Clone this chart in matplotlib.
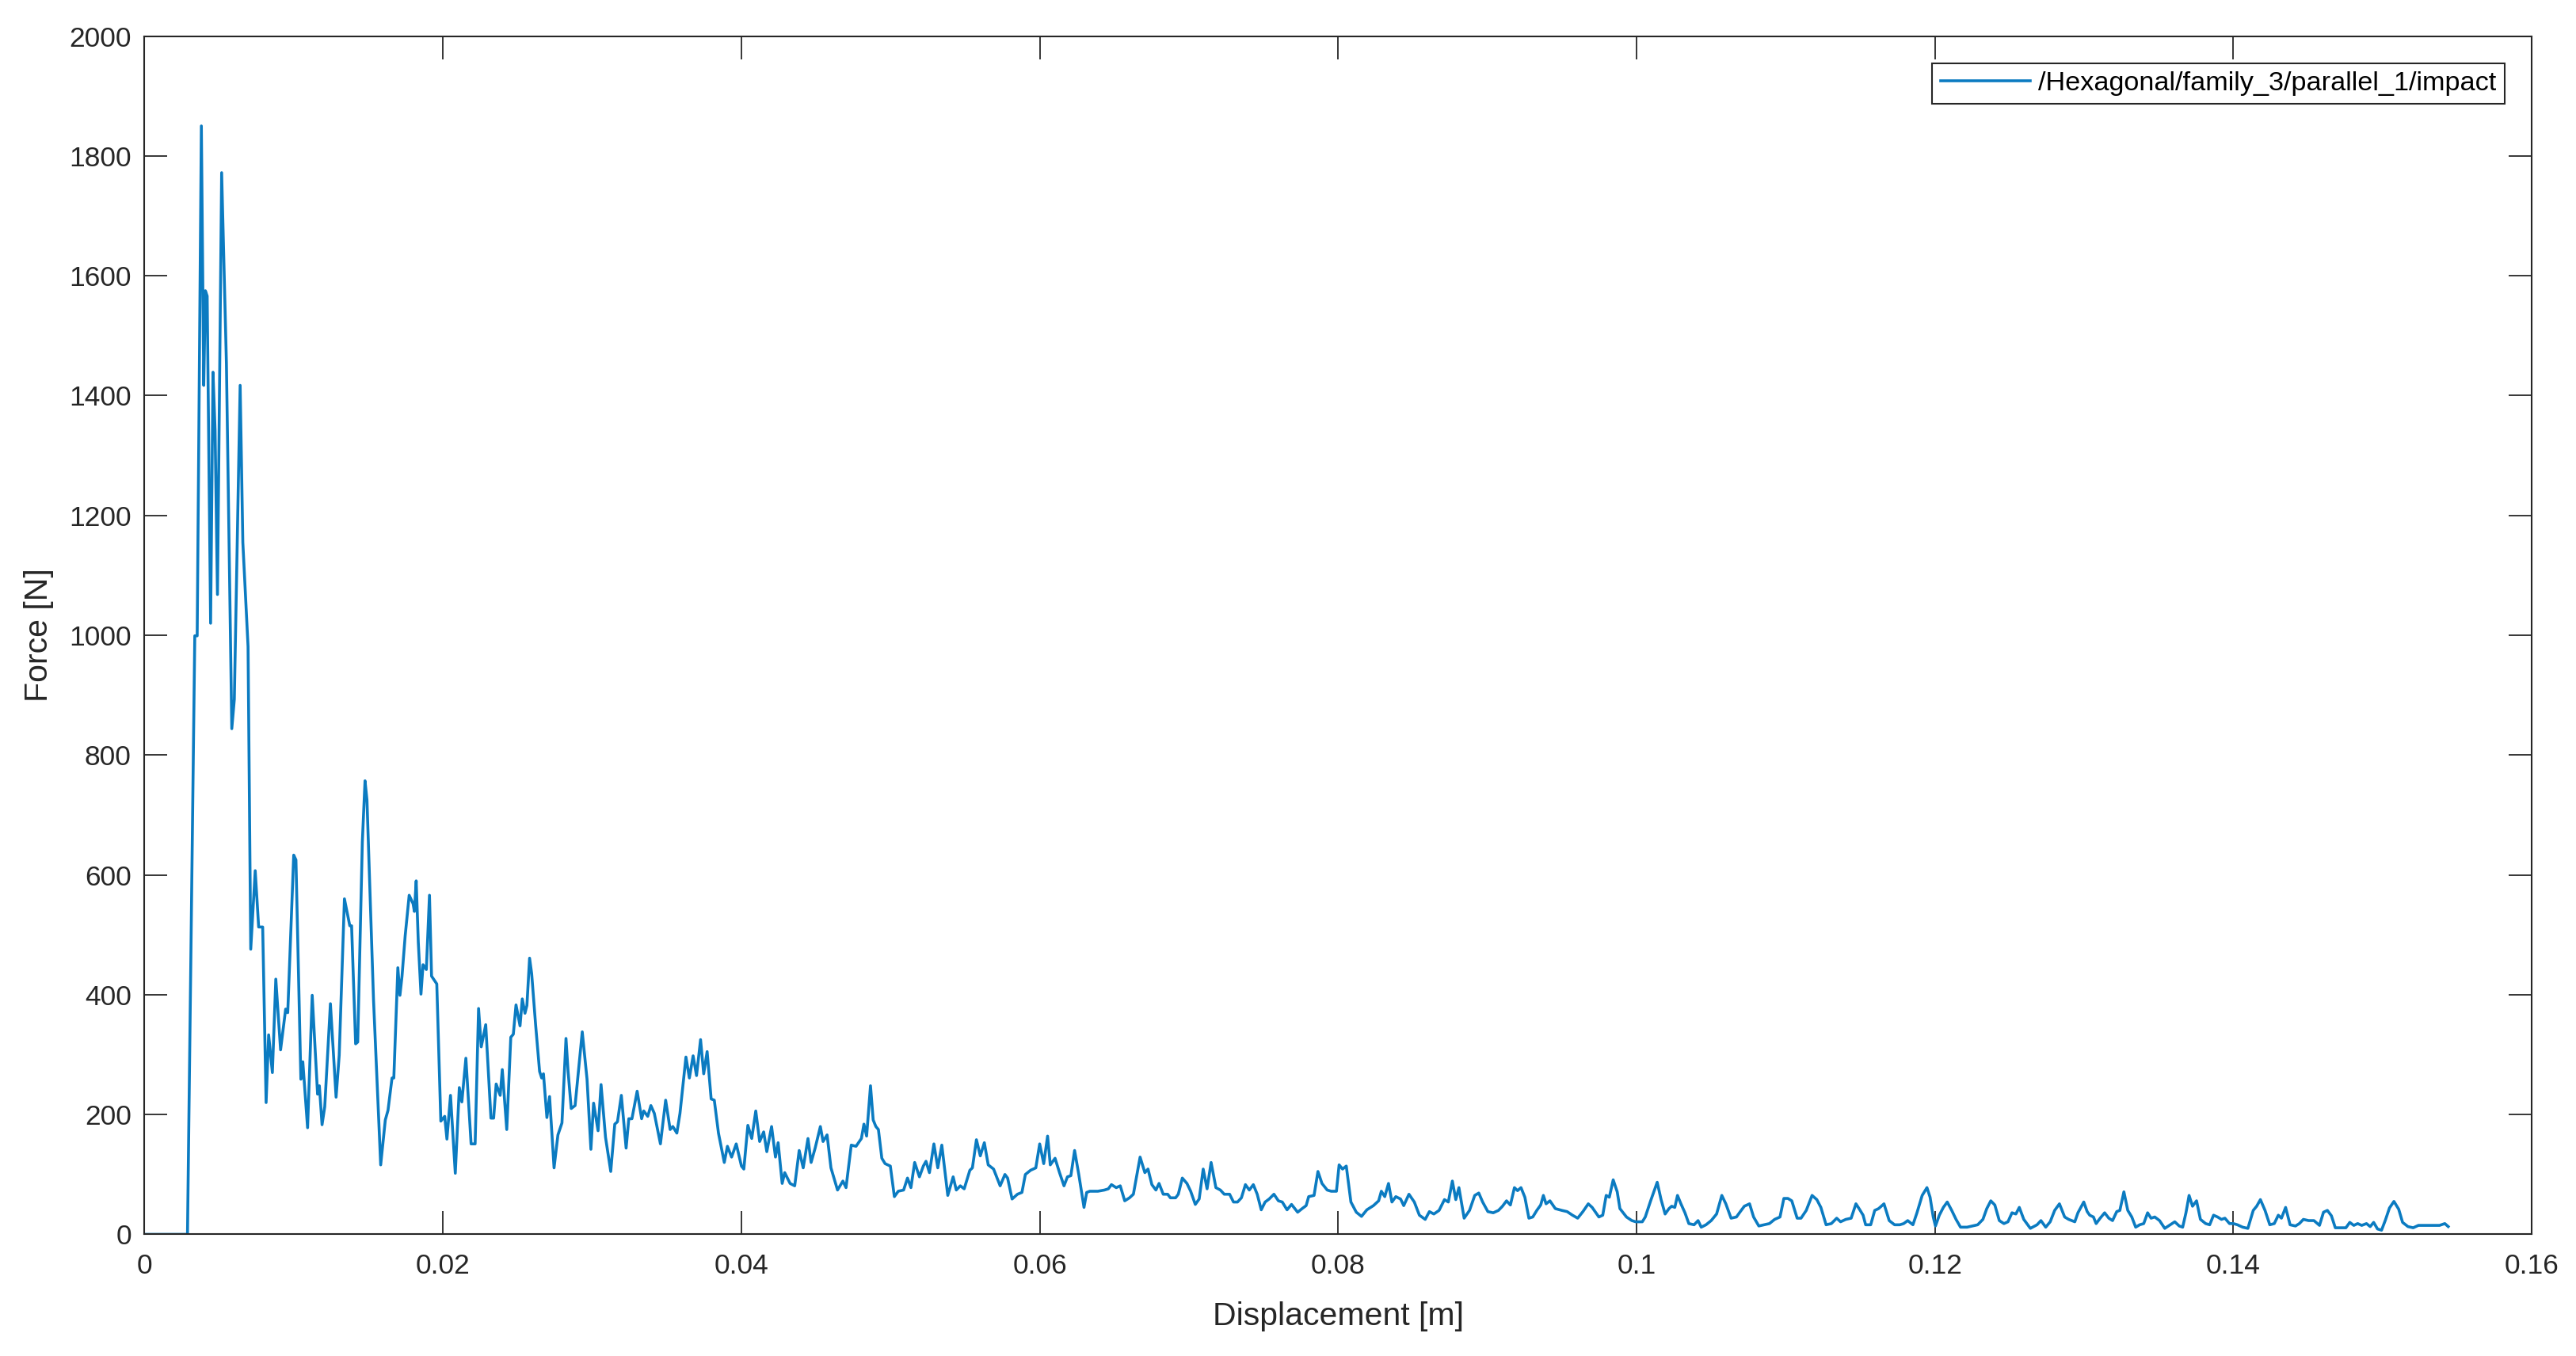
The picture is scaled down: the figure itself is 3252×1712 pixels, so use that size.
import numpy as np
import matplotlib
matplotlib.use('Agg')
import matplotlib.pyplot as plt

plt.rcParams['font.family'] = ['Liberation Sans', 'DejaVu Sans']

# ---- data (displacement in m, force in N) ----
disp_1 = [0, 0.00288, 0.00337, 0.00353, 0.00381, 0.00397, 0.00408, 0.00420, 0.00443, 0.00459,
          0.00473, 0.00489, 0.00517, 0.00549, 0.00585, 0.00602, 0.00641, 0.00659, 0.00694, 0.00712,
          0.00742, 0.00765, 0.00792, 0.00815, 0.00832, 0.00857, 0.00880, 0.00912, 0.00946, 0.00960]
force_1 = [0, 0, 999, 999, 1850, 1417, 1575, 1566, 1020, 1439,
           1342, 1068, 1772, 1454, 844, 893, 1417, 1155, 981, 476,
           607, 513, 513, 220, 333, 270, 426, 308, 376, 370]

disp_2 = [0.01000, 0.01015, 0.01048, 0.01061, 0.01093, 0.01124, 0.01160, 0.01172, 0.01190, 0.01208,
          0.01246, 0.01284, 0.01305, 0.01340, 0.01376, 0.01388, 0.01415, 0.01429, 0.01460, 0.01478,
          0.01491, 0.01535, 0.01583, 0.01614, 0.01632, 0.01659, 0.01671, 0.01698, 0.01712, 0.01726,
          0.01747, 0.01774, 0.01800, 0.01809, 0.01821, 0.01835, 0.01853, 0.01867, 0.01889, 0.01910,
          0.01924, 0.01959, 0.01986, 0.02012, 0.02027, 0.02051, 0.02083, 0.02110, 0.02127, 0.02154,
          0.02189, 0.02216, 0.02239, 0.02257, 0.02287, 0.02322, 0.02340, 0.02357, 0.02384, 0.02398,
          0.02428, 0.02455, 0.02472, 0.02490, 0.02517]
force_2 = [633, 625, 259, 288, 178, 399, 234, 248, 183, 213,
           385, 229, 299, 560, 515, 515, 318, 321, 655, 757,
           725, 391, 116, 191, 207, 261, 261, 445, 399, 431,
           498, 566, 552, 539, 590, 488, 401, 450, 442, 566,
           431, 418, 189, 197, 159, 232, 102, 245, 221, 294,
           151, 151, 377, 313, 350, 194, 194, 251, 232, 275,
           175, 329, 334, 383, 348]

disp_3 = [0.02532, 0.02550, 0.02563, 0.02581, 0.02595, 0.02621, 0.02648, 0.02662, 0.02674, 0.02697,
          0.02715, 0.02745, 0.02771, 0.02798, 0.02825, 0.02839, 0.02860, 0.02886, 0.02934, 0.02966,
          0.02992, 0.03010, 0.03040, 0.03060, 0.03090, 0.03125, 0.03152, 0.03170, 0.03196, 0.03228,
          0.03246, 0.03267, 0.03302, 0.03332, 0.03346, 0.03373, 0.03394, 0.03417, 0.03458, 0.03493,
          0.03523, 0.03541, 0.03568, 0.03589, 0.03629, 0.03652, 0.03677, 0.03700, 0.03727, 0.03748,
          0.03771, 0.03798, 0.03819, 0.03847, 0.03886, 0.03907, 0.03935, 0.03966, 0.04001]
force_3 = [393, 369, 382, 461, 435, 351, 272, 261, 268, 195,
           230, 111, 166, 186, 327, 272, 210, 215, 338, 259,
           142, 219, 173, 250, 162, 105, 184, 188, 232, 144,
           193, 193, 239, 193, 206, 197, 215, 202, 151, 224,
           175, 180, 169, 202, 296, 261, 298, 265, 325, 268,
           305, 226, 224, 169, 120, 147, 129, 151, 114]

disp_4 = [0.04017, 0.04044, 0.04070, 0.04097, 0.04123, 0.04150, 0.04171, 0.04203, 0.04229, 0.04247,
          0.04274, 0.04291, 0.04327, 0.04358, 0.04388, 0.04415, 0.04447, 0.04468, 0.04495, 0.04530,
          0.04548, 0.04575, 0.04601, 0.04645, 0.04681, 0.04702, 0.04737, 0.04769, 0.04805, 0.04822,
          0.04840, 0.04866, 0.04884, 0.04902, 0.04919, 0.04942, 0.04964, 0.04999, 0.05026, 0.05052,
          0.05088, 0.05114, 0.05137, 0.05162, 0.05194, 0.05220, 0.05238, 0.05261, 0.05291, 0.05317,
          0.05344, 0.05384, 0.05420, 0.05441, 0.05468, 0.05494]
force_4 = [109, 182, 160, 206, 155, 171, 138, 180, 129, 153,
           85, 103, 85, 81, 140, 111, 160, 120, 144, 180,
           155, 166, 111, 74, 89, 78, 149, 147, 160, 184,
           164, 248, 191, 180, 175, 127, 118, 114, 63, 72,
           74, 94, 78, 120, 96, 114, 122, 103, 151, 111,
           149, 65, 96, 74, 81, 76]

disp_5 = [0.05532, 0.05549, 0.05576, 0.05602, 0.05629, 0.05655, 0.05691, 0.05735, 0.05767, 0.05785,
          0.05815, 0.05851, 0.05881, 0.05904, 0.05939, 0.05974, 0.06000, 0.06027, 0.06053, 0.06071,
          0.06103, 0.06133, 0.06163, 0.06186, 0.06209, 0.06234, 0.06262, 0.06297, 0.06315, 0.06336,
          0.06390, 0.06434, 0.06460, 0.06481, 0.06513, 0.06540, 0.06570, 0.06602, 0.06628, 0.06673,
          0.06705, 0.06726, 0.06752, 0.06779, 0.06800, 0.06828, 0.06858, 0.06876, 0.06911, 0.06929,
          0.06956, 0.06987, 0.07012]
force_5 = [107, 111, 158, 131, 153, 116, 109, 81, 100, 94,
           59, 67, 70, 100, 107, 111, 151, 118, 164, 116,
           127, 103, 81, 96, 98, 140, 100, 45, 70, 72,
           72, 74, 76, 83, 78, 81, 56, 61, 67, 129,
           103, 109, 83, 74, 85, 67, 67, 61, 61, 67,
           94, 85, 72]

disp_6 = [0.07043, 0.07069, 0.07096, 0.07122, 0.07149, 0.07181, 0.07211, 0.07237, 0.07273, 0.07299,
          0.07326, 0.07352, 0.07379, 0.07405, 0.07432, 0.07458, 0.07485, 0.07511, 0.07538, 0.07570,
          0.07600, 0.07626, 0.07658, 0.07688, 0.07729, 0.07759, 0.07786, 0.07803, 0.07839, 0.07865,
          0.07892, 0.07927, 0.07954, 0.07989, 0.08007, 0.08030, 0.08055, 0.08086, 0.08122, 0.08157,
          0.08193, 0.08237, 0.08272, 0.08290, 0.08313, 0.08338, 0.08361, 0.08387, 0.08419, 0.08440,
          0.08475, 0.08511]
force_6 = [50, 59, 109, 76, 120, 78, 74, 67, 67, 54,
           54, 61, 83, 74, 83, 67, 41, 54, 59, 67,
           56, 54, 41, 50, 37, 43, 48, 63, 65, 105,
           85, 74, 72, 72, 116, 109, 114, 54, 37, 30,
           41, 48, 56, 72, 63, 85, 54, 63, 59, 48,
           67, 54]

disp_7 = [0.08545, 0.08584, 0.08612, 0.08642, 0.08677, 0.08713, 0.08739, 0.08766, 0.08789, 0.08810,
          0.08845, 0.08881, 0.08916, 0.08943, 0.08969, 0.09004, 0.09040, 0.09075, 0.09102, 0.09129,
          0.09155, 0.09182, 0.09203, 0.09226, 0.09252, 0.09279, 0.09305, 0.09332, 0.09358, 0.09376,
          0.09394, 0.09420, 0.09456, 0.09500, 0.09535, 0.09571, 0.09606, 0.09641, 0.09677, 0.09703,
          0.09748, 0.09774, 0.09797, 0.09818, 0.09844, 0.09871, 0.09889, 0.09933, 0.09969, 0.09995,
          0.10039]
force_7 = [32, 25, 38, 34, 40, 58, 54, 89, 58, 78,
           27, 40, 65, 69, 54, 38, 36, 40, 47, 56,
           49, 78, 73, 78, 62, 27, 29, 40, 49, 65,
           51, 56, 43, 40, 38, 32, 27, 38, 51, 45,
           29, 32, 65, 62, 91, 71, 43, 29, 23, 21,
           21]

disp_8 = [0.10059, 0.10095, 0.10139, 0.10165, 0.10192, 0.10218, 0.10236, 0.10257, 0.10275, 0.10298,
          0.10325, 0.10351, 0.10386, 0.10413, 0.10434, 0.10466, 0.10501, 0.10537, 0.10572, 0.10599,
          0.10634, 0.10670, 0.10696, 0.10723, 0.10758, 0.10785, 0.10820, 0.10855, 0.10891, 0.10926,
          0.10962, 0.10988, 0.11015, 0.11041, 0.11077, 0.11103, 0.11138, 0.11177, 0.11209, 0.11236,
          0.11271, 0.11306, 0.11342, 0.11368, 0.11403, 0.11439, 0.11471, 0.11492, 0.11519, 0.11536]
force_8 = [29, 56, 87, 58, 34, 43, 47, 45, 65, 51,
           36, 18, 16, 23, 12, 16, 23, 34, 65, 51,
           27, 29, 38, 47, 51, 29, 14, 16, 18, 25,
           29, 60, 60, 56, 27, 27, 40, 65, 58, 45,
           16, 18, 27, 21, 25, 27, 51, 43, 32, 16]

disp_9 = [0.11570, 0.11597, 0.11623, 0.11659, 0.11694, 0.11730, 0.11765, 0.11791, 0.11818, 0.11853,
          0.11880, 0.11915, 0.11947, 0.11968, 0.11989, 0.12004, 0.12030, 0.12057, 0.12083, 0.12113,
          0.12142, 0.12172, 0.12216, 0.12251, 0.12287, 0.12322, 0.12348, 0.12375, 0.12402, 0.12432,
          0.12463, 0.12490, 0.12517, 0.12543, 0.12566, 0.12596, 0.12640, 0.12685, 0.12711, 0.12743,
          0.12773, 0.12803, 0.12835, 0.12870, 0.12897, 0.12938, 0.12959, 0.12998, 0.13021, 0.13038]
force_9 = [16, 40, 43, 51, 23, 16, 16, 18, 23, 16,
           36, 65, 78, 62, 29, 14, 32, 45, 54, 40,
           25, 12, 12, 14, 16, 25, 43, 56, 49, 23,
           18, 21, 36, 34, 45, 25, 10, 16, 23, 12,
           21, 40, 51, 29, 25, 21, 36, 54, 38, 32]

disp_10 = [0.13063, 0.13081, 0.13108, 0.13138, 0.13166, 0.13191, 0.13219, 0.13240, 0.13267, 0.13293,
           0.13320, 0.13346, 0.13373, 0.13400, 0.13426, 0.13449, 0.13474, 0.13506, 0.13541, 0.13577,
           0.13608, 0.13638, 0.13661, 0.13683, 0.13704, 0.13727, 0.13754, 0.13780, 0.13815, 0.13842,
           0.13868, 0.13895, 0.13921, 0.13944, 0.13975, 0.14001, 0.14028, 0.14063, 0.14098, 0.14134,
           0.14157, 0.14182, 0.14213, 0.14245, 0.14275, 0.14302, 0.14323, 0.14351, 0.14381, 0.14417,
           0.14443, 0.14470, 0.14505, 0.14541]
force_10 = [29, 18, 27, 36, 27, 23, 38, 40, 71, 40,
            29, 12, 16, 18, 36, 27, 29, 23, 10, 16,
            21, 14, 12, 36, 65, 47, 56, 25, 18, 16,
            32, 29, 25, 27, 18, 18, 16, 12, 10, 40,
            47, 58, 40, 16, 18, 32, 27, 45, 16, 14,
            18, 25, 23, 23]

disp_11 = [0.14578, 0.14605, 0.14631, 0.14658, 0.14684, 0.14720, 0.14755, 0.14781, 0.14808, 0.14834,
           0.14861, 0.14893, 0.14918, 0.14941, 0.14967, 0.14994, 0.15020, 0.15047, 0.15077, 0.15109,
           0.15135, 0.15171, 0.15206, 0.15241, 0.15277, 0.15312, 0.15347, 0.15383, 0.15418, 0.15441]
force_11 = [15, 37, 40, 31, 11, 11, 11, 20, 15, 18,
            15, 18, 13, 20, 9, 7, 24, 44, 55, 42,
            20, 13, 11, 15, 15, 15, 15, 15, 18, 13]

x_ticks = [0, 0.02, 0.04, 0.06, 0.08, 0.10, 0.12, 0.14, 0.16]
x_tick_labels = ['0', '0.02', '0.04', '0.06', '0.08', '0.1', '0.12', '0.14', '0.16']
y_ticks = [0, 200, 400, 600, 800, 1000, 1200, 1400, 1600, 1800, 2000]
series_label = '/Hexagonal/family_3/parallel_1/impact'

disp_parts = [disp_1, disp_2, disp_3, disp_4, disp_5, disp_6, disp_7, disp_8, disp_9, disp_10, disp_11]
force_parts = [force_1, force_2, force_3, force_4, force_5, force_6, force_7, force_8, force_9, force_10, force_11]
for d, f in zip(disp_parts, force_parts):
    assert len(d) == len(f), (len(d), len(f))
displacement = np.concatenate(disp_parts)
force = np.concatenate(force_parts)

# ---- figure ----
fig = plt.figure(figsize=(32.52, 17.12), dpi=100)
ax = fig.add_axes([0.0561, 0.0897, 0.92668, 0.8837])
line_color = '#0b7bc1'
ax.plot(displacement, force, color=line_color, lw=2.6, label=series_label,
        solid_joinstyle='round')

ax.set_xlim(0, 0.16)
ax.set_ylim(0, 2000)
ax.set_xticks(x_ticks)
ax.set_xticklabels(x_tick_labels)
ax.set_yticks(y_ticks)
ax.set_yticklabels([str(v) for v in y_ticks])

axis_color = '#262626'
ax.tick_params(direction='in', length=21, width=1.3, top=True, right=True,
               labelsize=25.5, colors=axis_color)
ax.tick_params(axis='x', pad=17)
ax.tick_params(axis='y', pad=12)
for s in ax.spines.values():
    s.set_linewidth(1.5)
    s.set_color(axis_color)

ax.set_xlabel('Displacement [m]', fontsize=29.5, color=axis_color, labelpad=20)
ax.set_ylabel('Force [N]', fontsize=29.5, color=axis_color, labelpad=14)

leg = ax.legend(loc='upper right', fontsize=24.7, frameon=True, fancybox=False,
                framealpha=1, edgecolor=axis_color, handlelength=3.3,
                handletextpad=0.3, borderpad=0.3, borderaxespad=1.0)
leg.get_frame().set_linewidth(1.5)

fig.savefig('out.png', dpi=100)
